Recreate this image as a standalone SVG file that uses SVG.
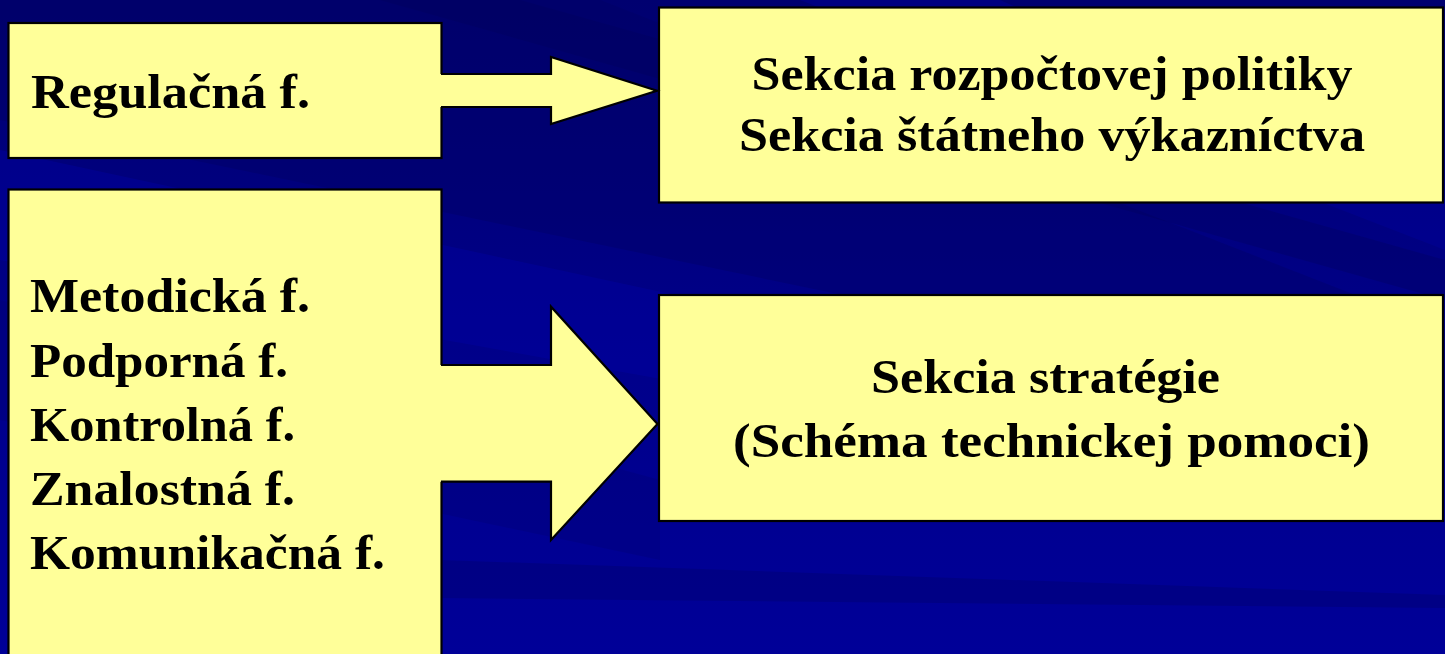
<svg xmlns="http://www.w3.org/2000/svg" width="1445" height="654" viewBox="0 0 1445 654">
<style>
.box{fill:#FFFF99;stroke:#000;stroke-width:2.2}
.afill{fill:#FFFF99;stroke:none}
.aline{fill:none;stroke:#000;stroke-width:2.2;stroke-linejoin:miter}
.t{font-family:"Palatino Linotype","Book Antiqua","Liberation Serif",serif;font-weight:bold;font-size:48px;fill:#000}
.c{text-anchor:middle}
</style>
<defs>
<linearGradient id="bg" x1="0" y1="0" x2="0" y2="1">
<stop offset="0" stop-color="#000070"/>
<stop offset="0.55" stop-color="#00008A"/>
<stop offset="1" stop-color="#000098"/>
</linearGradient>
</defs>
<g id="background">
<rect x="0" y="0" width="1445" height="654" fill="url(#bg)"/>
<polygon points="0,0 600,0 1445,330 1445,420 0,120" fill="#000060" opacity="0.35"/>
<polygon points="0,150 0,260 1445,520 1445,460" fill="#0000A8" opacity="0.35"/>
<polygon points="380,0 520,0 1445,260 1445,300" fill="#00005A" opacity="0.3"/>
<polygon points="800,0 1000,0 1445,200 1445,250" fill="#0000A0" opacity="0.35"/>
<polygon points="0,300 0,420 660,560 660,480" fill="#000070" opacity="0.3"/>
<polygon points="440,560 1445,595 1445,608 440,598" fill="#000070" opacity="0.45"/>
</g>
<g id="node-regulacna">
<rect class="box" x="8.5" y="23" width="433" height="135"/>
<text class="t" x="31" y="108" textLength="279" lengthAdjust="spacingAndGlyphs">Regulačná f.</text>
</g>
<g id="node-functions">
<rect class="box" x="8.5" y="189.5" width="433" height="480"/>
<text class="t" x="30" y="312" textLength="280" lengthAdjust="spacingAndGlyphs">Metodická f.</text>
<text class="t" x="30" y="377" textLength="258" lengthAdjust="spacingAndGlyphs">Podporná f.</text>
<text class="t" x="30" y="440.5" textLength="265" lengthAdjust="spacingAndGlyphs">Kontrolná f.</text>
<text class="t" x="30" y="504.5" textLength="265" lengthAdjust="spacingAndGlyphs">Znalostná f.</text>
<text class="t" x="30" y="568.5" textLength="355" lengthAdjust="spacingAndGlyphs">Komunikačná f.</text>
</g>
<g id="node-sekcia-rozpoctovej">
<rect class="box" x="659" y="7.5" width="784" height="195"/>
<text class="t c" x="1052" y="90" textLength="601" lengthAdjust="spacingAndGlyphs">Sekcia rozpočtovej politiky</text>
<text class="t c" x="1052" y="151" textLength="626" lengthAdjust="spacingAndGlyphs">Sekcia štátneho výkazníctva</text>
</g>
<g id="node-sekcia-strategie">
<rect class="box" x="659" y="295" width="784" height="226"/>
<text class="t c" x="1045.5" y="393" textLength="349" lengthAdjust="spacingAndGlyphs">Sekcia stratégie</text>
<text class="t c" x="1051.5" y="457" textLength="637" lengthAdjust="spacingAndGlyphs">(Schéma technickej pomoci)</text>
</g>
<g id="connectors">
<g id="arrow-1">
<polygon class="afill" points="436,74 551,74 551,57 657,90.7 551,124 551,107 436,107"/>
<path class="aline" d="M441,74 H551 V57 L657,90.7 L551,124 V107 H441"/>
</g>
<g id="arrow-2">
<polygon class="afill" points="436,365 551,365 551,306.7 657.5,424 551,540 551,481.7 436,481.7"/>
<path class="aline" d="M441,365 H551 V306.7 L657.5,424 L551,540 V481.7 H441"/>
</g>
</g>
</svg>
